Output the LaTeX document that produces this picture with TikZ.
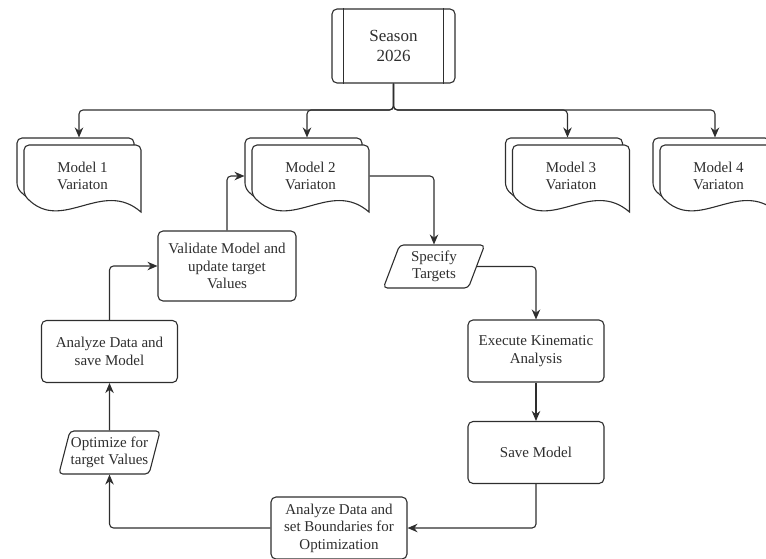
\documentclass[tikz,border=0pt]{standalone}
\usepackage{fontspec}
\setmainfont{Liberation Serif}
\usetikzlibrary{arrows.meta}
\usetikzlibrary{shapes.geometric}

% one sheet of a stacked document, top left corner at (#1,#2)
\newcommand{\docsheet}[2]{%
  \filldraw[fill=white, rounded corners=5pt] ({#1+117},{#2+67}) -- ({#1+117},{#2}) -- ({#1},{#2}) -- ({#1},{#2+50}) [sharp corners] .. controls ({#1+38},{#2+89}) and ({#1+78},{#2+33}) .. ({#1+117},{#2+67}) -- cycle;}

\begin{document}
\begin{tikzpicture}[x=1pt, y=-1pt, >={Stealth[length=10pt,width=8.5pt]}, line width=1.1pt, color=black!82, font=\fontsize{15}{17.5}\selectfont]
    \tikzstyle{process}=[draw, rounded corners=5pt, align=center, minimum width=136pt, minimum height=62pt, inner sep=2pt]
    \tikzstyle{io}=[draw, trapezium, trapezium left angle=74, trapezium right angle=106, trapezium stretches=true, rounded corners=4pt, align=center, minimum width=102pt, minimum height=43pt, inner xsep=0pt]
    \tikzstyle{doc}=[align=center, minimum width=117pt, minimum height=62pt, inner sep=0pt]
    \tikzstyle{line}=[->, rounded corners=4pt]

    \useasboundingbox (0,0) rectangle (766,558);
    \clip (0,0) rectangle (766,558);

    \node[draw, rounded corners=5pt, minimum width=123pt, minimum height=74pt, align=center, font=\fontsize{17}{19.5}\selectfont] (season) at (393.5,46) {Season\\2026};
    \draw ([xshift=12pt]season.north west) -- ([xshift=12pt]season.south west);
    \draw ([xshift=-12pt]season.north east) -- ([xshift=-12pt]season.south east);

    % the four variations
    \foreach \nm/\cx/\txt in {m1/82.5/Model 1, m2/310.5/Model 2, m3/571/Model 3, m4/718.5/Model 4}{
      \docsheet{\cx-65.5}{138}
      \docsheet{\cx-58.5}{145}
      \node[doc] (\nm) at (\cx,176) {\txt\\Variaton};
    }

    \coordinate (bus) at (393.5,110);
    \foreach \m in {m1,m2,m3,m4}
      \draw[line] (season.south) -- (bus) -| ([shift={(-3.5pt,7pt)}]\m.north);

    \node[io] (spec) at (434,266.5) {Specify\\Targets};
    \node[process] (exec) at (536,351) {Execute Kinematic\\Analysis};
    \node[process] (save) at (536,452.5) {Save Model};
    \node[process] (anb) at (339,528) {Analyze Data and\\set Boundaries for\\Optimization};
    \node[io] (opt) at (109.5,452.5) {Optimize for\\target Values};
    \node[process] (ads) at (109.5,351.5) {Analyze Data and\\save Model};
    \node[process, minimum width=138pt, minimum height=70pt] (val) at (227,266) {Validate Model and\\update target\\Values};

    \draw[line] (m2.east) -| (spec.north);
    \draw[line] (spec.east) -| (exec.north);
    \draw[line] (exec) -- (save);
    \draw[line] (save.south) |- (anb.east);
    \draw[line] (anb.west) -| (opt.south);
    \draw[line] (opt) -- (ads);
    \draw[line] (ads.north) |- (val.west);
    \draw[line] (val.north) |- ([xshift=-7pt]m2.west);
\end{tikzpicture}
\end{document}
